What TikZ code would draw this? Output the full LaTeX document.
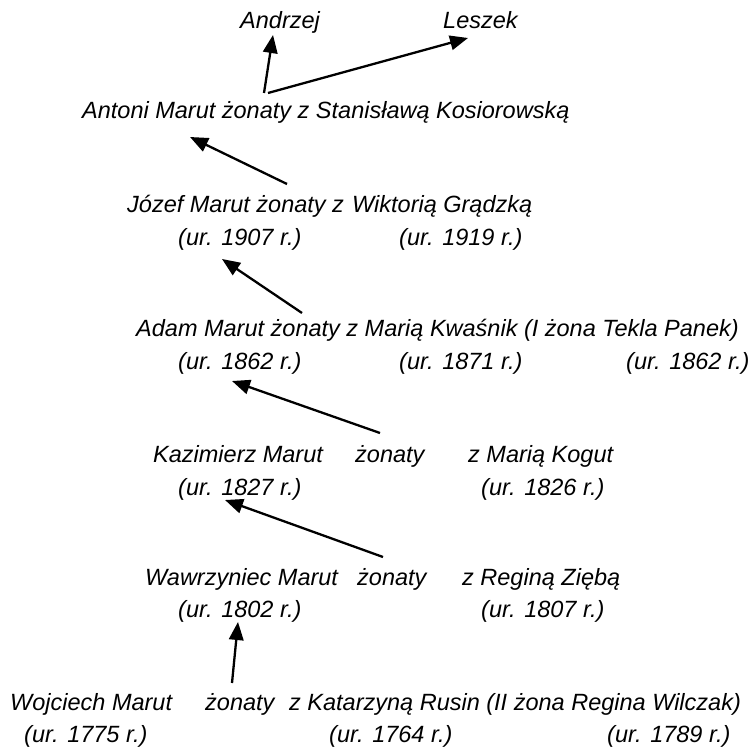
\documentclass[tikz,border=0pt]{standalone}
\usepackage{fontspec}
\setmainfont{Liberation Sans}
\usetikzlibrary{arrows.meta}
\begin{document}
\begin{tikzpicture}[x=1pt,y=-1pt,
  lbl/.style={inner sep=0pt,anchor=base west,font=\fontsize{23.5}{27}\selectfont\itshape},
  link/.style={line width=2.3pt,-{Triangle[length=18pt,width=14.5pt]}}]
\useasboundingbox (0,0) rectangle (750,749);

% generation 1
\node[lbl] (andrzej) at (240,29) {Andrzej};
\node[lbl] (leszek) at (443,29) {Leszek};
% generation 2
\node[lbl] (antoni) at (82,119) {Antoni Marut żonaty z Stanisławą Kosiorowską};
% generation 3
\node[lbl] (jozef) at (127,212) {Józef Marut żonaty z};
\node[lbl] (wiktoria) at (352,212) {Wiktorią Grądzką};
\node[lbl] (jozefb) at (178,245) {(ur. 1907 r.)};
\node[lbl] (wiktoriab) at (399,245) {(ur. 1919 r.)};
% generation 4
\node[lbl] (adam) at (136,336) {Adam Marut żonaty z Marią Kwaśnik (I żona Tekla Panek)};
\node[lbl] (adamb) at (178,369) {(ur. 1862 r.)};
\node[lbl] (mariab) at (399,369) {(ur. 1871 r.)};
\node[lbl] (teklab) at (626,369) {(ur. 1862 r.)};
% generation 5
\node[lbl] (kazimierz) at (153,462) {Kazimierz Marut};
\node[lbl] (kazz) at (355,462) {żonaty};
\node[lbl] (kogut) at (468,462) {z Marią Kogut};
\node[lbl] (kazimierzb) at (178,495) {(ur. 1827 r.)};
\node[lbl] (kogutb) at (481,495) {(ur. 1826 r.)};
% generation 6
\node[lbl] (wawrzyniec) at (145,585) {Wawrzyniec Marut};
\node[lbl] (wawz) at (357,585) {żonaty};
\node[lbl] (regina) at (462,585) {z Reginą Ziębą};
\node[lbl] (wawrzyniecb) at (178,617) {(ur. 1802 r.)};
\node[lbl] (reginab) at (481,617) {(ur. 1807 r.)};
% generation 7
\node[lbl] (wojciech) at (10,710) {Wojciech Marut};
\node[lbl] (wojz) at (205,710) {żonaty};
\node[lbl] (katarzyna) at (289,710) {z Katarzyną Rusin (II żona Regina Wilczak)};
\node[lbl] (wojciechb) at (24,742) {(ur. 1775 r.)};
\node[lbl] (katarzynab) at (329,742) {(ur. 1764 r.)};
\node[lbl] (wilczakb) at (607,742) {(ur. 1789 r.)};

% arrow end points
\coordinate (antoniA) at (264,93);
\coordinate (antoniL) at (268,93);
\coordinate (andrzejIn) at (273,35);
\coordinate (leszekIn) at (468,38);
\coordinate (jozefOut) at (287,184);
\coordinate (antoniIn) at (190,137);
\coordinate (adamOut) at (302,313);
\coordinate (jozefIn) at (222,259);
\coordinate (kazOut) at (380,433);
\coordinate (adamIn) at (232,381);
\coordinate (wawOut) at (383,557);
\coordinate (kazIn) at (225,500);
\coordinate (wojOut) at (232,683);
\coordinate (wawIn) at (238,622);

\draw[link] (antoniA) -- (andrzejIn);
\draw[link] (antoniL) -- (leszekIn);
\draw[link] (jozefOut) -- (antoniIn);
\draw[link] (adamOut) -- (jozefIn);
\draw[link] (kazOut) -- (adamIn);
\draw[link] (wawOut) -- (kazIn);
\draw[link] (wojOut) -- (wawIn);
\end{tikzpicture}
\end{document}
